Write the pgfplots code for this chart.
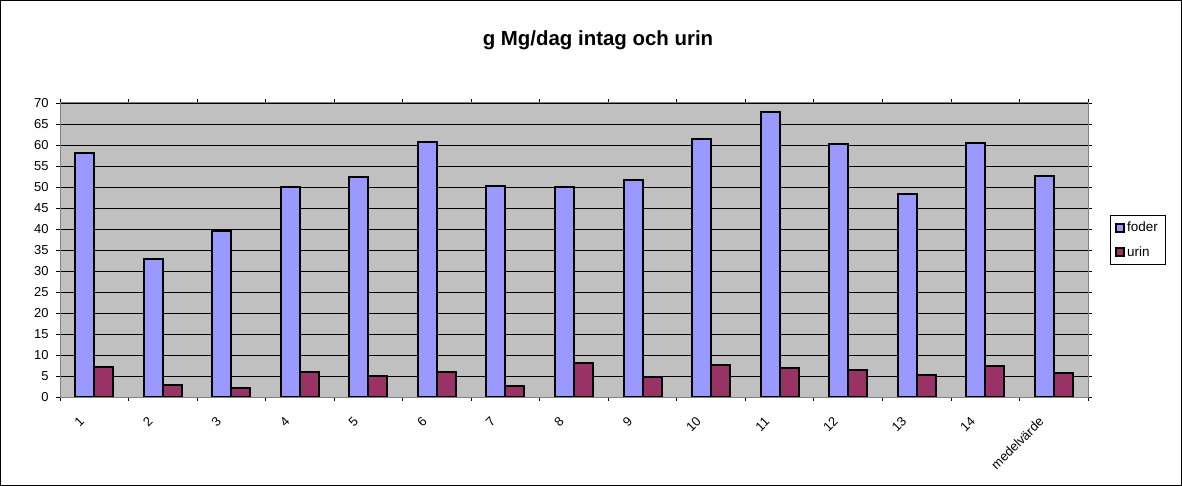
\documentclass[border=0pt]{standalone}
\usepackage{pgfplots}
\pgfplotsset{compat=1.18}
\usepackage{fontspec}
\setmainfont{Liberation Sans}
\definecolor{foder}{HTML}{9999FF}
\definecolor{urin}{HTML}{993366}
\definecolor{plotbg}{HTML}{C0C0C0}
\definecolor{frame}{HTML}{808080}

\begin{document}
\begin{tikzpicture}
\useasboundingbox (0,0) rectangle (1182bp,486bp);
\draw[black, line width=1bp] (0.5bp,0.5bp) rectangle (1181.5bp,485.5bp);
\node[font=\bfseries\fontsize{20.5}{24}\selectfont] at (598bp,446bp) {g Mg/dag intag och urin};
\begin{axis}[
    at={(60bp,89bp)}, anchor=south west,
    scale only axis,
    width=1028bp, height=294bp,
    ybar=0pt, bar width=19bp,
    xmin=-0.5, xmax=14.5,
    ymin=0, ymax=70,
    ytick={0,5,...,70},
    xtick={0,1,...,14},
    xticklabels={1,2,3,4,5,6,7,8,9,10,11,12,13,14,medelvärde},
    minor xtick={-0.5,0.5,...,14.5},
    every major x tick/.append style={draw=none},
    xticklabel style={xshift=-10bp, yshift=-16bp, rotate=45, anchor=east},
    yticklabel style={xshift=-4bp},
    tick align=outside,
    major tick length=4bp,
    minor tick length=4bp,
    tick style={black, line width=0.8bp},
    ymajorgrids=true,
    grid style={black, line width=0.8bp},
    axis background/.style={fill=plotbg},
    axis line style={frame, line width=1bp},
    ticklabel style={font=\fontsize{13}{15}\selectfont},
    /pgf/number format/assume math mode=true,
    legend style={at={(1.0214,0.619)}, anchor=north west, draw=black,
        font=\fontsize{13.5}{15}\selectfont, row sep=9bp,
        inner xsep=5bp, inner ysep=5bp},
    legend image code/.code={\draw[#1, line width=2bp] (0bp,-4bp) rectangle (8bp,4bp);},
    legend cell align=left,
]

% foder
\addplot[fill=foder, draw=black, line width=2bp]
    coordinates {(0,58.2) (1,32.9) (2,39.6) (3,49.9) (4,52.4) (5,60.7) (6,50.2)
    (7,49.9) (8,51.7) (9,61.5) (10,67.9) (11,60.2) (12,48.3) (13,60.4) (14,52.6)};

% urin
\addplot[fill=urin, draw=black, line width=2bp]
    coordinates {(0,7.1) (1,2.8) (2,2.1) (3,5.9) (4,5.1) (5,5.9) (6,2.6)
    (7,8.0) (8,4.7) (9,7.5) (10,6.9) (11,6.4) (12,5.2) (13,7.4) (14,5.6)};

\legend{foder, urin}

\draw[black, line width=1bp] (axis cs:-0.5,0) -- (axis cs:14.5,0);
\end{axis}
\end{tikzpicture}
\end{document}
